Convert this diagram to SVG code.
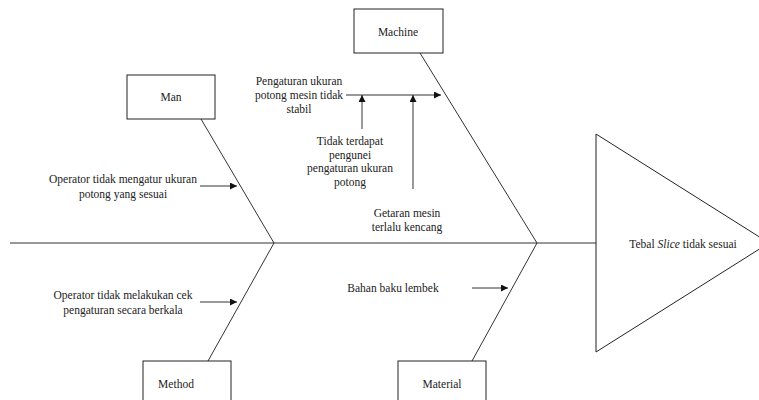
<svg xmlns="http://www.w3.org/2000/svg" width="759" height="400" viewBox="0 0 759 400">
<style>
  .box{fill:#fff;stroke:#222;stroke-width:1}
  .ln{fill:none;stroke:#333;stroke-width:1}
  .t{font-family:"Liberation Serif","Times New Roman",serif;font-size:11.5px;fill:#222}
  .c{text-anchor:middle}
</style>
<defs>
  <marker id="ah" viewBox="0 0 10 10" refX="10" refY="5" markerWidth="7" markerHeight="7" markerUnits="userSpaceOnUse" orient="auto">
    <path d="M0,0 L10,5 L0,10 z" fill="#111"/>
  </marker>
</defs>
<rect width="759" height="400" fill="#fff"/>
<g id="connectors">
  <line class="ln" x1="10" y1="243" x2="596" y2="243"/>
  <line class="ln" x1="201" y1="119" x2="274" y2="243"/>
  <line class="ln" x1="274" y1="243" x2="208" y2="361"/>
  <line class="ln" x1="420" y1="53" x2="537" y2="243"/>
  <line class="ln" x1="537" y1="243" x2="472" y2="361"/>
  <line class="ln" x1="200" y1="186" x2="237" y2="186" marker-end="url(#ah)"/>
  <line class="ln" x1="200" y1="302" x2="237" y2="302" marker-end="url(#ah)"/>
  <line class="ln" x1="472" y1="288" x2="508" y2="288" marker-end="url(#ah)"/>
  <line class="ln" x1="346" y1="95" x2="441" y2="95" marker-end="url(#ah)"/>
  <line class="ln" x1="362" y1="129" x2="362" y2="95" marker-end="url(#ah)"/>
  <line class="ln" x1="413" y1="189" x2="413" y2="95" marker-end="url(#ah)"/>
</g>
<g id="effect">
  <path class="box" d="M596,134 L769,243 L596,352 Z"/>
  <text class="t c" x="683" y="248">Tebal <tspan font-style="italic">Slice</tspan> tidak sesuai</text>
</g>
<g id="man">
  <rect class="box" x="127" y="75" width="88" height="44"/>
  <text class="t c" x="171" y="101">Man</text>
</g>
<g id="machine">
  <rect class="box" x="354" y="9" width="89" height="44"/>
  <text class="t c" x="398" y="36">Machine</text>
</g>
<g id="method">
  <rect class="box" x="143" y="361" width="88" height="50"/>
  <text class="t c" x="176" y="388">Method</text>
</g>
<g id="material">
  <rect class="box" x="398" y="361" width="88" height="50"/>
  <text class="t c" x="442" y="388">Material</text>
</g>
<g id="cause-man">
  <text class="t c" x="123" y="183">Operator tidak mengatur ukuran</text>
  <text class="t c" x="123" y="198">potong yang sesuai</text>
</g>
<g id="cause-method">
  <text class="t c" x="123" y="299">Operator tidak melakukan cek</text>
  <text class="t c" x="123" y="314">pengaturan secara berkala</text>
</g>
<g id="cause-material">
  <text class="t c" x="393" y="292">Bahan baku lembek</text>
</g>
<g id="cause-machine">
  <text class="t c" x="299" y="85">Pengaturan ukuran</text>
  <text class="t c" x="299" y="99">potong mesin tidak</text>
  <text class="t c" x="299" y="113">stabil</text>
</g>
<g id="sub-cause-1">
  <text class="t c" x="350" y="145">Tidak terdapat</text>
  <text class="t c" x="350" y="159">pengunei</text>
  <text class="t c" x="350" y="172">pengaturan ukuran</text>
  <text class="t c" x="350" y="186">potong</text>
</g>
<g id="sub-cause-2">
  <text class="t c" x="407" y="217">Getaran mesin</text>
  <text class="t c" x="407" y="231">terlalu kencang</text>
</g>
</svg>
